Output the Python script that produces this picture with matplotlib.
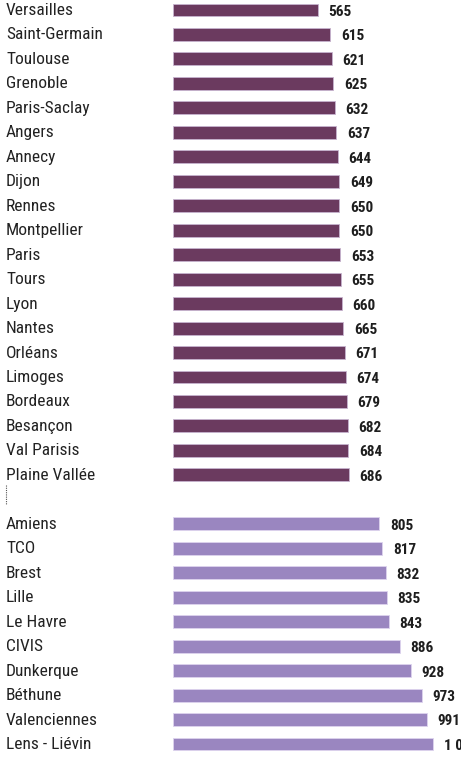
import numpy as np
import matplotlib.pyplot as plt
import matplotlib.transforms as mtransforms

# data
top_names = ["Versailles", "Saint-Germain", "Toulouse", "Grenoble", "Paris-Saclay",
             "Angers", "Annecy", "Dijon", "Rennes", "Montpellier", "Paris", "Tours",
             "Lyon", "Nantes", "Orléans", "Limoges", "Bordeaux", "Besançon",
             "Val Parisis", "Plaine Vallée"]
top_values = [565, 615, 621, 625, 632, 637, 644, 649, 650, 650, 653, 655,
              660, 665, 671, 674, 679, 682, 684, 686]
bottom_names = ["Amiens", "TCO", "Brest", "Lille", "Le Havre", "CIVIS",
                "Dunkerque", "Béthune", "Valenciennes", "Lens - Liévin"]
bottom_values = [805, 817, 832, 835, 843, 886, 928, 973, 991, 1015]

dark = "#6b3a5f"
light = "#9a86c0"

plt.rcParams['font.family'] = ['Roboto Condensed', 'Roboto', 'DejaVu Sans']

fig = plt.figure(figsize=(4.61, 7.68), dpi=100)
ax = fig.add_axes([173 / 461, 0, 1 - 173 / 461, 1])
ax.set_axis_off()

step = 24.47
y_top = np.arange(len(top_names))
y_bot = np.arange(len(bottom_names)) + len(top_names) + 1

ax.barh(y_top, top_values, height=0.53, color=dark, edgecolor="#c7b3cf", linewidth=0.6)
ax.barh(y_bot, bottom_values, height=0.53, color=light, edgecolor="#ddd3ee", linewidth=0.6)

ax.set_xlim(0, (461 - 173) / 0.256)
ax.set_ylim(30 + (768 - 744) / step, -10 / step)

trans = mtransforms.blended_transform_factory(fig.transFigure, ax.transData)
names = top_names + bottom_names
values = top_values + bottom_values
ys = list(y_top) + list(y_bot)
for name, v, y in zip(names, values, ys):
    ax.text(6 / 461, y + 0.02, name, transform=trans, ha="left", va="center",
            fontsize=12.5, fontstretch="condensed", color="#222222")
    lab = f"{v:,}".replace(",", " ")
    ax.text(v + 42, y + 0.08, lab, ha="left", va="center", fontsize=11,
            fontweight="bold", fontstretch="condensed", color="#1e1e1e",
            clip_on=False)

# dotted separator between the two groups
ax.plot([6 / 461, 6 / 461], [19.4, 20.25], transform=trans, color="#555555",
        linestyle=(0, (1, 1)), linewidth=0.8, clip_on=False)

plt.savefig("out.png", dpi=100)
